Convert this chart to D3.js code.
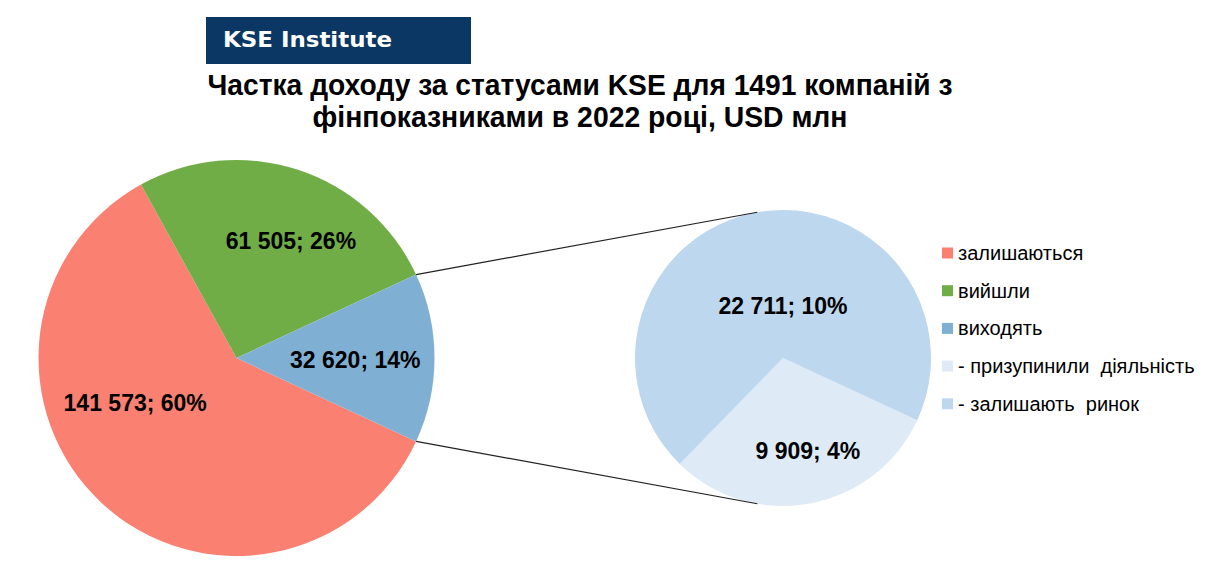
<!DOCTYPE html>
<html lang="uk">
<head>
  <meta charset="UTF-8">
  <title>Частка доходу за статусами KSE</title>
  <style>
    body { margin: 0; background: #fff; }
    text { font-family: "Liberation Sans", Arial, sans-serif; }
  </style>
</head>
<body>
  <div id="chart"></div>

  <script src="https://cdn.jsdelivr.net/npm/d3@7/dist/d3.min.js"></script>
  <script>
    // дані
    const mainLabels = ["залишаються", "вийшли", "виходять"];
    const mainValues = [141573, 61505, 32620];
    const subLabels = ["- призупинили  діяльність", "- залишають  ринок"];
    const subValues = [9909, 22711];
    const titleLines = ["Частка доходу за статусами KSE для 1491 компаній з",
                        "фінпоказниками в 2022 році, USD млн"];

    const mainColors = ["#FA8072", "#70AD47", "#7FB0D4"];
    const subColors = ["#DEEAF6", "#BDD7EE"];

    const width = 1222, height = 564;
    const cy = 358;
    const main = { cx: 236.5, r: 198 };
    const sub = { cx: 783, r: 148 };

    // позиції підписів: кут (град) і частка радіуса
    const mainLabelPos = [{ a: 246, k: 0.56 }, { a: 25, k: 0.65 }, { a: 91, k: 0.6 }];
    const subLabelPos = [{ a: 165, k: 0.65 }, { a: 0, k: 0.35 }];
    const titleWidths = [745, 535];

    const total = d3.sum(mainValues);
    const fmt = d3.formatLocale({ decimal: ",", thousands: " ", grouping: [3], currency: ["", ""] }).format(",d");
    const labelText = v => `${fmt(v)}; ${Math.round(v / total * 100)}%`;

    const svg = d3.select("#chart").append("svg")
      .attr("width", width)
      .attr("height", height);

    // шапка KSE Institute
    svg.append("rect")
      .attr("x", 206).attr("y", 17)
      .attr("width", 265).attr("height", 47)
      .attr("fill", "#0A3764");
    svg.append("text")
      .attr("x", 223).attr("y", 39)
      .attr("dominant-baseline", "central")
      .attr("textLength", 169)
      .attr("lengthAdjust", "spacingAndGlyphs")
      .style("font-family", "'DejaVu Sans', Verdana, sans-serif")
      .style("font-size", "22px").style("font-weight", "bold")
      .attr("fill", "#fff")
      .text("KSE Institute");

    // заголовок
    svg.selectAll(".title")
      .data(titleLines)
      .enter().append("text")
      .attr("class", "title")
      .attr("x", 580)
      .attr("y", (d, i) => 85 + i * 32)
      .attr("text-anchor", "middle")
      .attr("dominant-baseline", "central")
      .attr("textLength", (d, i) => titleWidths[i])
      .attr("lengthAdjust", "spacingAndGlyphs")
      .style("font-size", "29px").style("font-weight", "bold")
      .text(d => d);

    // кут: блакитний сектор по центру праворуч (3 година)
    const blueSpan = mainValues[2] / total * 2 * Math.PI;
    const start = Math.PI / 2 + blueSpan / 2;

    const pie = d3.pie().sort(null).startAngle(start).endAngle(start + 2 * Math.PI);
    const polar = (c, r, a) => [c.cx + r * Math.sin(a), cy - r * Math.cos(a)];
    const deg = Math.PI / 180;

    // основний пиріг
    const mainArc = d3.arc().innerRadius(0).outerRadius(main.r);
    const gMain = svg.append("g").attr("transform", `translate(${main.cx},${cy})`);
    gMain.selectAll("path")
      .data(pie(mainValues))
      .enter().append("path")
      .attr("d", mainArc)
      .attr("fill", (d, i) => mainColors[i]);

    // другий пиріг
    const subArc = d3.arc().innerRadius(0).outerRadius(sub.r);
    const gSub = svg.append("g").attr("transform", `translate(${sub.cx},${cy})`);
    gSub.selectAll("path")
      .data(pie(subValues))
      .enter().append("path")
      .attr("d", subArc)
      .attr("fill", (d, i) => subColors[i]);

    // лінії-з'єднувачі
    const blue = pie(mainValues)[2];
    const connectors = [
      [polar(main, main.r, blue.startAngle), polar(sub, sub.r, -10 * deg)],
      [polar(main, main.r, blue.endAngle), polar(sub, sub.r, 190 * deg)]
    ];
    svg.selectAll(".conn")
      .data(connectors)
      .enter().append("line")
      .attr("class", "conn")
      .attr("x1", d => d[0][0]).attr("y1", d => d[0][1])
      .attr("x2", d => d[1][0]).attr("y2", d => d[1][1])
      .attr("stroke", "#222").attr("stroke-width", 1.2);

    // підписи даних
    const addLabels = (c, values, pos) => {
      svg.selectAll(null)
        .data(values)
        .enter().append("text")
        .attr("x", (d, i) => polar(c, pos[i].k * c.r, pos[i].a * deg)[0])
        .attr("y", (d, i) => polar(c, pos[i].k * c.r, pos[i].a * deg)[1])
        .attr("text-anchor", "middle")
        .attr("dominant-baseline", "central")
        .style("font-size", "23px").style("font-weight", "bold")
        .attr("fill", "#000")
        .text(d => labelText(d));
    };
    addLabels(main, mainValues, mainLabelPos);
    addLabels(sub, subValues, subLabelPos);

    // легенда
    const legendItems = mainLabels.map((l, i) => ({ label: l, color: mainColors[i] }))
      .concat(subLabels.map((l, i) => ({ label: l, color: subColors[i] })));
    const legend = svg.append("g").attr("transform", "translate(942,253)");
    const row = legend.selectAll("g")
      .data(legendItems)
      .enter().append("g")
      .attr("transform", (d, i) => `translate(0,${i * 37.7})`);
    row.append("rect")
      .attr("x", 0).attr("y", -5.5)
      .attr("width", 11).attr("height", 11)
      .attr("fill", d => d.color);
    row.append("text")
      .attr("x", 16)
      .attr("dominant-baseline", "central")
      .style("font-size", "20px")
      .style("white-space", "pre")
      .attr("fill", "#000")
      .text(d => d.label);
  </script>
</body>
</html>
